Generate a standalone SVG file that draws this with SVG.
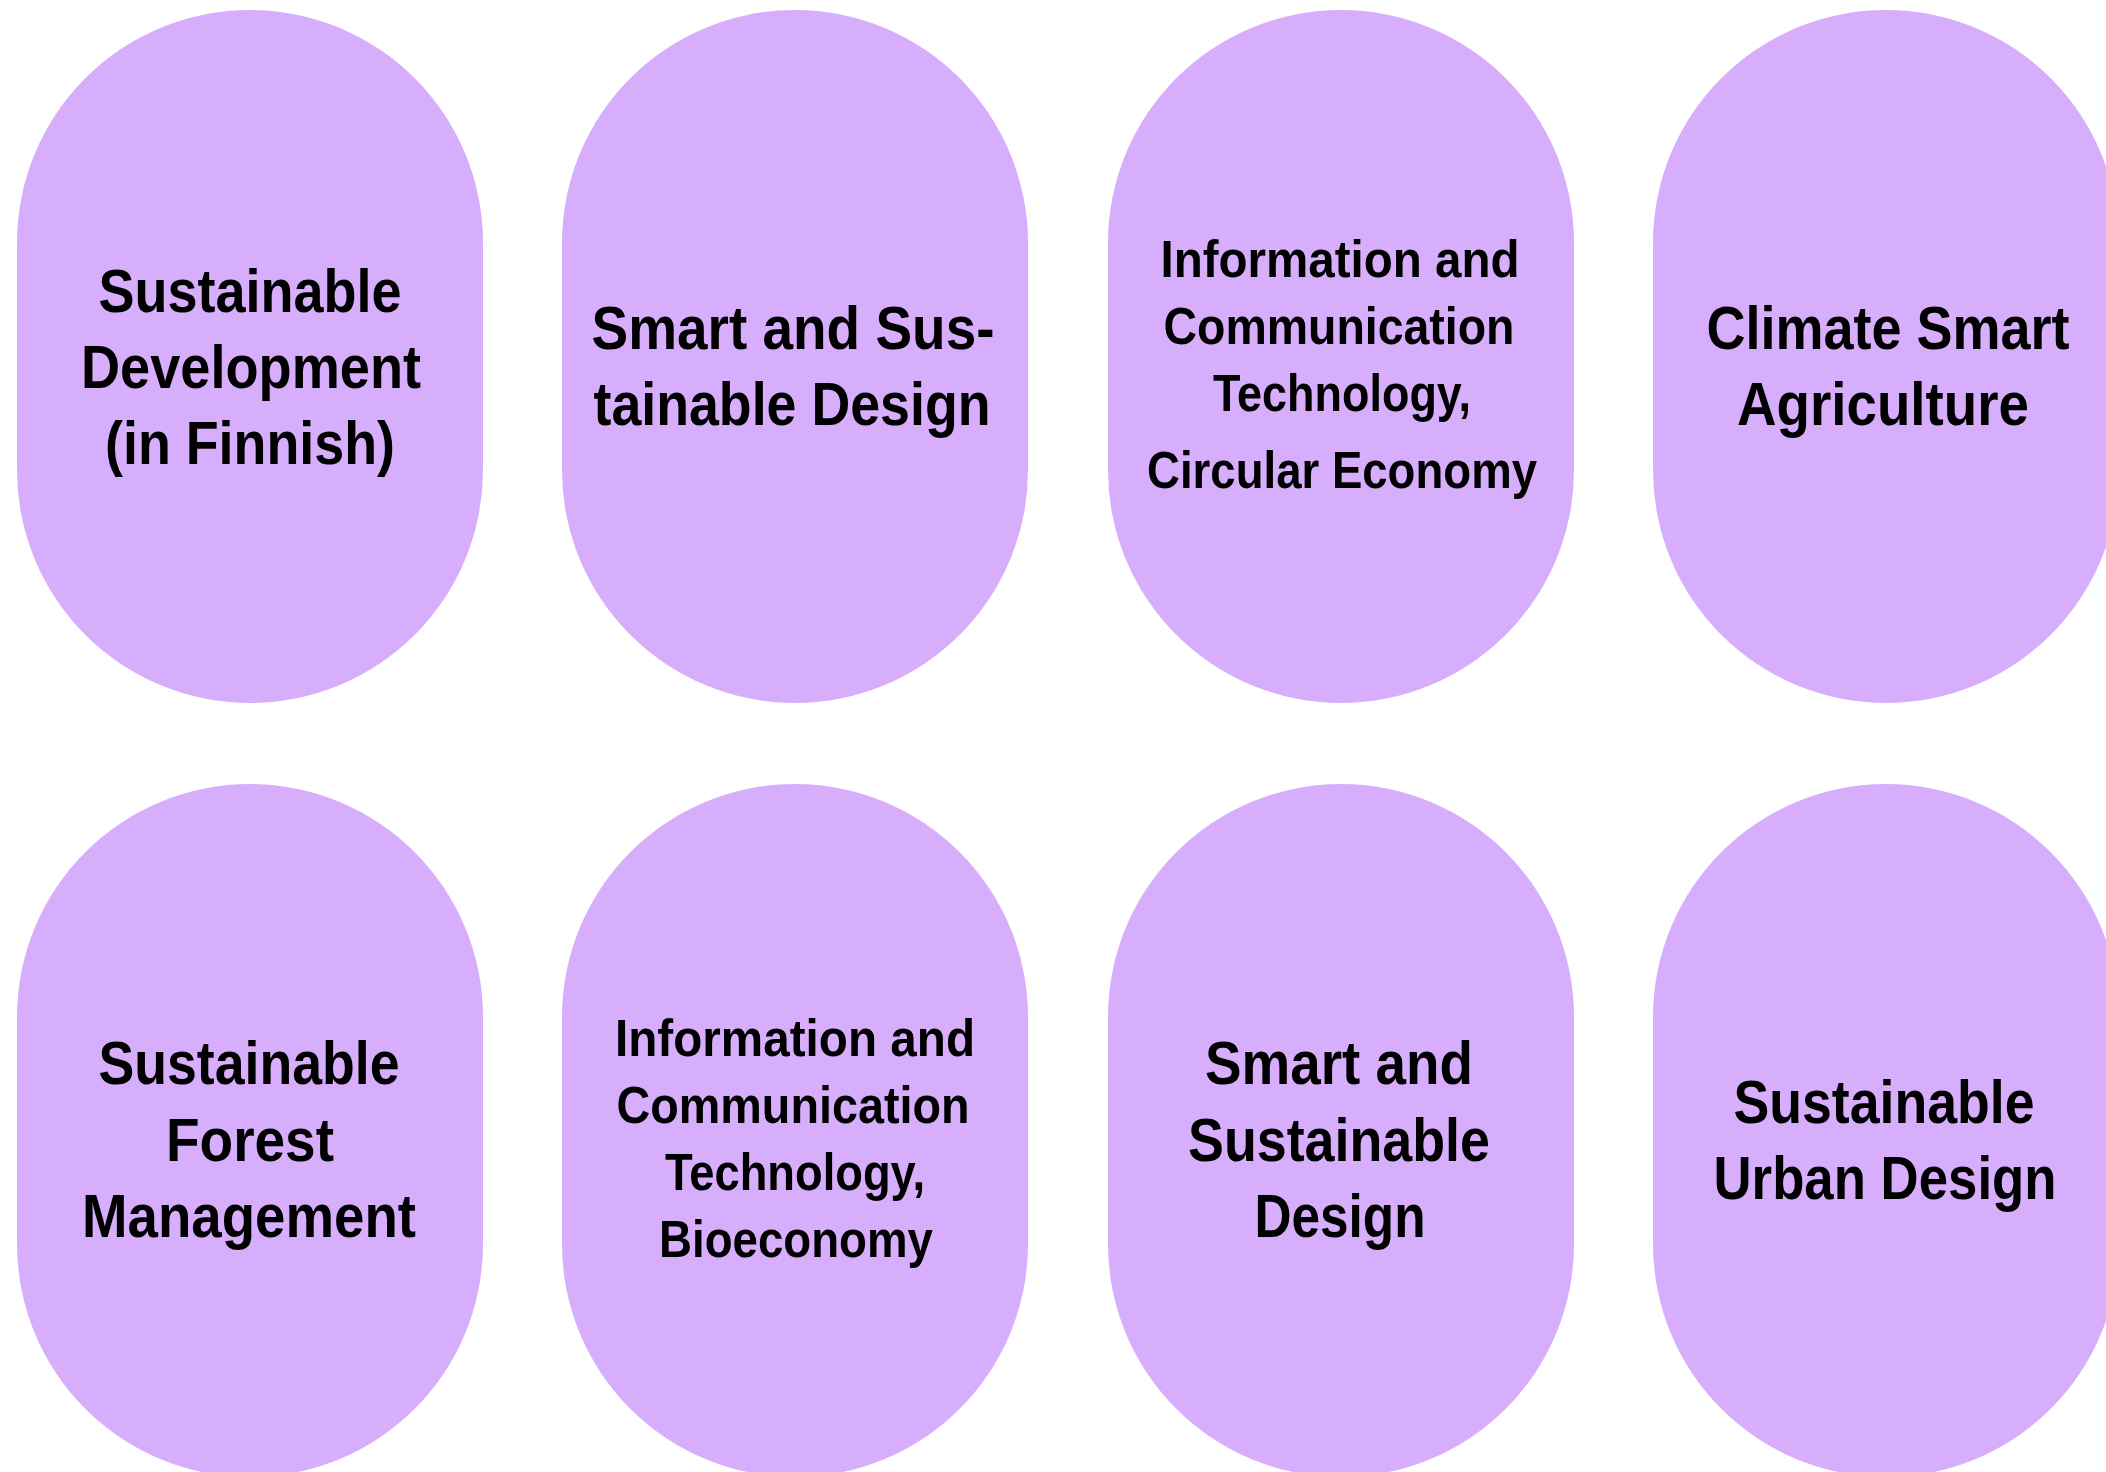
<svg xmlns="http://www.w3.org/2000/svg" width="2106" height="1472" viewBox="0 0 2106 1472">
<style>
.pill{fill:#D7AEFB;}
.t{font-family:"Liberation Sans Narrow","Liberation Sans",Arial,sans-serif;font-weight:bold;fill:#000;text-anchor:middle;}
.big{font-size:62px;}
.sm{font-size:52px;}
</style>
<rect width="2106" height="1472" fill="#ffffff"/>
<g id="connectors"></g>
<g id="n1">
<rect class="pill" x="17" y="10" width="466" height="693" rx="233" ry="233"/>
<text class="t big" x="250" y="312" textLength="303" lengthAdjust="spacingAndGlyphs">Sustainable</text>
<text class="t big" x="251" y="388" textLength="340" lengthAdjust="spacingAndGlyphs">Development</text>
<text class="t big" x="250" y="464" textLength="290" lengthAdjust="spacingAndGlyphs">(in Finnish)</text>
</g>
<g id="n2">
<rect class="pill" x="562" y="10" width="466" height="693" rx="233" ry="233"/>
<text class="t big" x="793" y="349" textLength="403" lengthAdjust="spacingAndGlyphs">Smart and Sus-</text>
<text class="t big" x="792" y="425" textLength="397" lengthAdjust="spacingAndGlyphs">tainable Design</text>
</g>
<g id="n3">
<rect class="pill" x="1108" y="10" width="466" height="693" rx="233" ry="233"/>
<text class="t sm" x="1340" y="277" textLength="359" lengthAdjust="spacingAndGlyphs">Information and</text>
<text class="t sm" x="1339" y="344" textLength="351" lengthAdjust="spacingAndGlyphs">Communication</text>
<text class="t sm" x="1342" y="411" textLength="258" lengthAdjust="spacingAndGlyphs">Technology,</text>
<text class="t sm" x="1342" y="488" textLength="390" lengthAdjust="spacingAndGlyphs">Circular Economy</text>
</g>
<g id="n4">
<rect class="pill" x="1653" y="10" width="466" height="693" rx="233" ry="233"/>
<text class="t big" x="1888" y="349" textLength="363" lengthAdjust="spacingAndGlyphs">Climate Smart</text>
<text class="t big" x="1883" y="425" textLength="292" lengthAdjust="spacingAndGlyphs">Agriculture</text>
</g>
<g id="n5">
<rect class="pill" x="17" y="784" width="466" height="693" rx="233" ry="233"/>
<text class="t big" x="249" y="1084" textLength="301" lengthAdjust="spacingAndGlyphs">Sustainable</text>
<text class="t big" x="250" y="1161" textLength="168" lengthAdjust="spacingAndGlyphs">Forest</text>
<text class="t big" x="249" y="1237" textLength="334" lengthAdjust="spacingAndGlyphs">Management</text>
</g>
<g id="n6">
<rect class="pill" x="562" y="784" width="466" height="693" rx="233" ry="233"/>
<text class="t sm" x="795" y="1056" textLength="360" lengthAdjust="spacingAndGlyphs">Information and</text>
<text class="t sm" x="793" y="1123" textLength="353" lengthAdjust="spacingAndGlyphs">Communication</text>
<text class="t sm" x="795" y="1190" textLength="260" lengthAdjust="spacingAndGlyphs">Technology,</text>
<text class="t sm" x="796" y="1257" textLength="274" lengthAdjust="spacingAndGlyphs">Bioeconomy</text>
</g>
<g id="n7">
<rect class="pill" x="1108" y="784" width="466" height="693" rx="233" ry="233"/>
<text class="t big" x="1339" y="1084" textLength="268" lengthAdjust="spacingAndGlyphs">Smart and</text>
<text class="t big" x="1339" y="1161" textLength="302" lengthAdjust="spacingAndGlyphs">Sustainable</text>
<text class="t big" x="1340" y="1237" textLength="171" lengthAdjust="spacingAndGlyphs">Design</text>
</g>
<g id="n8">
<rect class="pill" x="1653" y="784" width="466" height="693" rx="233" ry="233"/>
<text class="t big" x="1884" y="1123" textLength="301" lengthAdjust="spacingAndGlyphs">Sustainable</text>
<text class="t big" x="1885" y="1199" textLength="343" lengthAdjust="spacingAndGlyphs">Urban Design</text>
</g>
</svg>
